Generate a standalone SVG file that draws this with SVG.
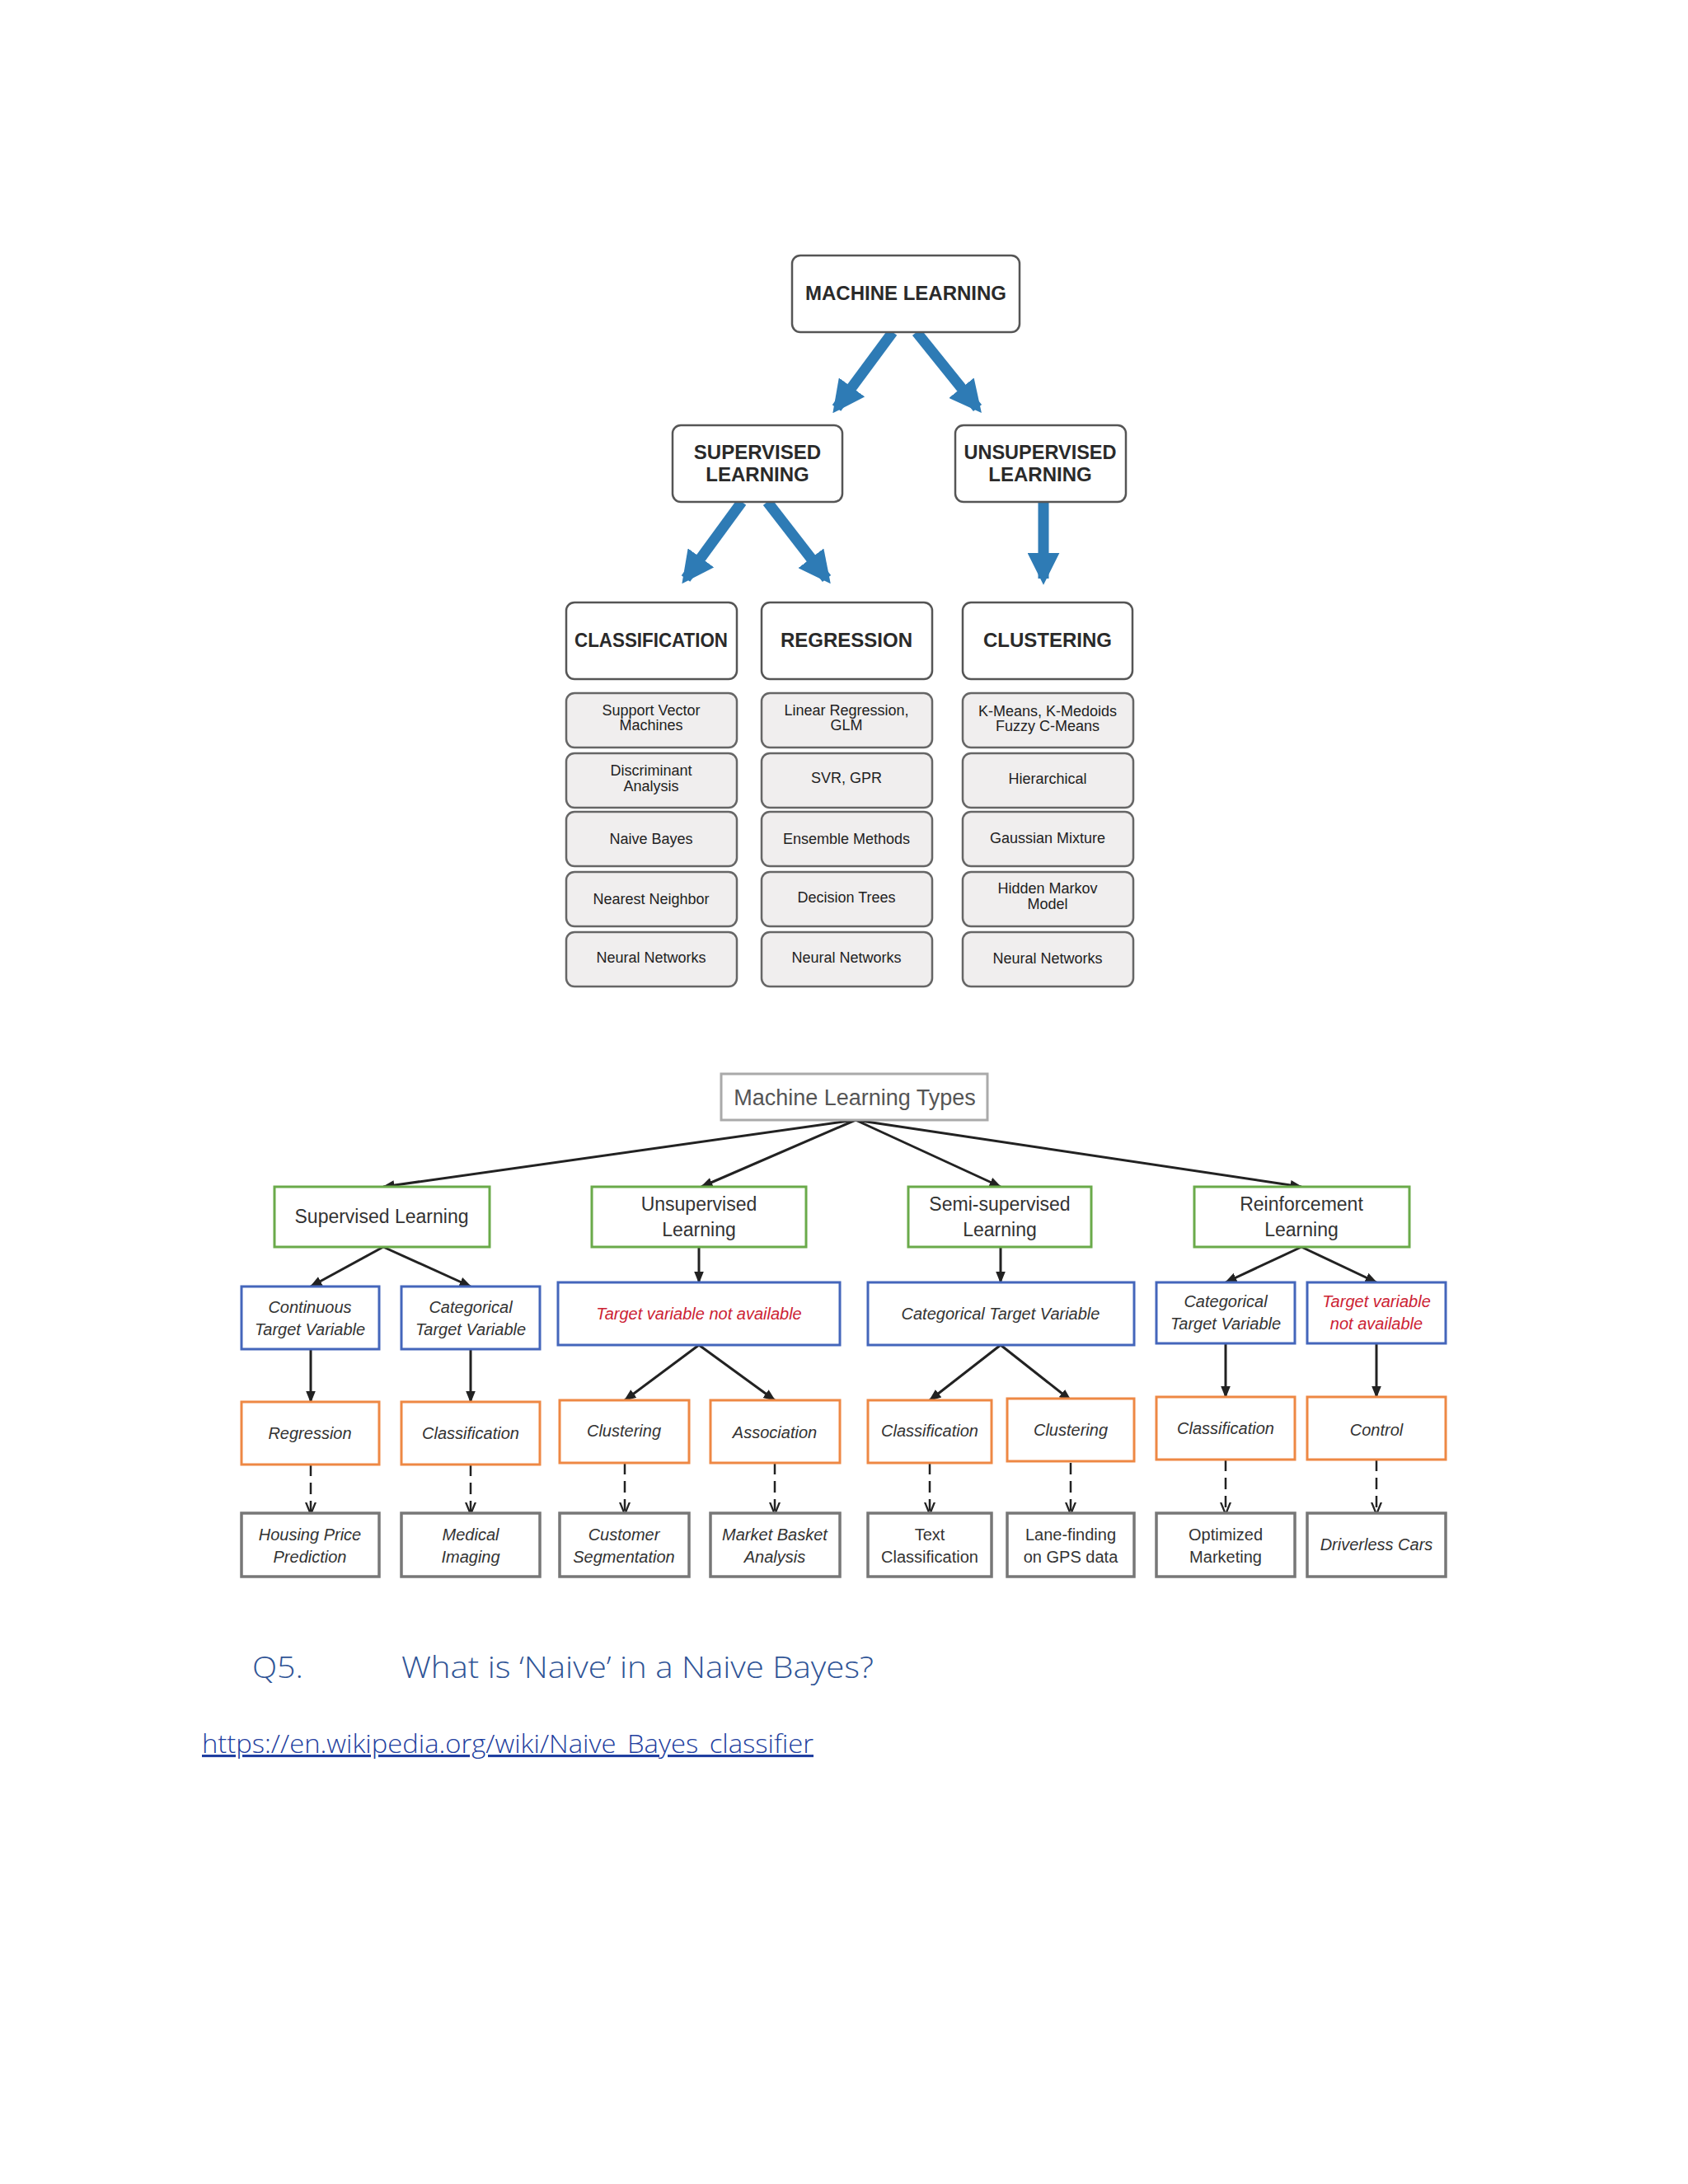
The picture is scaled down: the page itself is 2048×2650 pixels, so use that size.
<svg xmlns="http://www.w3.org/2000/svg" width="2048" height="2650" viewBox="0 0 2048 2650">
<defs>
<marker id="bh" viewBox="0 0 10 10" refX="8" refY="5" markerWidth="3" markerHeight="3" orient="auto"><path d="M0,0 L10,5 L0,10 z" fill="#2e7bb5"/></marker>
<marker id="ah" viewBox="0 0 10 10" refX="9" refY="5" markerWidth="5" markerHeight="5" orient="auto"><path d="M0,1 L10,5 L0,9 z" fill="#222"/></marker>
<marker id="vh" viewBox="0 0 10 10" refX="9" refY="5" markerWidth="6" markerHeight="6" orient="auto"><path d="M0,1 L10,5 L0,9" fill="none" stroke="#222" stroke-width="1.5"/></marker>
</defs>
<style>
.t{font-family:"Liberation Sans",Arial,sans-serif;text-anchor:middle}
.big{fill:#fff;stroke:#555;stroke-width:2.5}
.sm{fill:#f0eeee;stroke:#666;stroke-width:2.5}
.h{font-size:24px;font-weight:bold;fill:#2a2a2a}
.s{font-size:18px;fill:#222}
.g{fill:#fff;stroke:#6aaa4a;stroke-width:3}
.b{fill:#fff;stroke:#4466bb;stroke-width:3}
.o{fill:#fff;stroke:#ee8844;stroke-width:3}
.k{fill:#fff;stroke:#777;stroke-width:3.5}
.l1{font-size:23px;fill:#333}
.it{font-size:20px;font-style:italic;fill:#333}
.red{fill:#cc2233}
.bl{stroke:#2e7bb5;stroke-width:13;fill:none}
.ln{stroke:#222;stroke-width:3;fill:none}
.ds{stroke:#222;stroke-width:2.5;fill:none;stroke-dasharray:14,8}
.q{font-family:"Open Sans","Liberation Sans",sans-serif;font-weight:300}
</style>
<rect width="2048" height="2650" fill="#fff"/>
<g id="connectors">
<line class="bl" x1="1083" y1="403" x2="1015" y2="495" marker-end="url(#bh)"/>
<line class="bl" x1="1112" y1="403" x2="1186" y2="495" marker-end="url(#bh)"/>
<line class="bl" x1="900" y1="609" x2="832" y2="702" marker-end="url(#bh)"/>
<line class="bl" x1="931" y1="609" x2="1003" y2="702" marker-end="url(#bh)"/>
<line class="bl" x1="1266" y1="609" x2="1266" y2="702" marker-end="url(#bh)"/>
<g>
<line class="ln" x1="1038" y1="1359" x2="465" y2="1440" marker-end="url(#ah)"/>
<line class="ln" x1="1038" y1="1359" x2="851" y2="1440" marker-end="url(#ah)"/>
<line class="ln" x1="1038" y1="1359" x2="1214" y2="1440" marker-end="url(#ah)"/>
<line class="ln" x1="1038" y1="1359" x2="1579" y2="1440" marker-end="url(#ah)"/>
<line class="ln" x1="465" y1="1513" x2="377" y2="1561" marker-end="url(#ah)"/>
<line class="ln" x1="465" y1="1513" x2="571" y2="1561" marker-end="url(#ah)"/>
<line class="ln" x1="848" y1="1513" x2="848" y2="1556" marker-end="url(#ah)"/>
<line class="ln" x1="1214" y1="1513" x2="1214" y2="1556" marker-end="url(#ah)"/>
<line class="ln" x1="1579" y1="1513" x2="1487" y2="1556" marker-end="url(#ah)"/>
<line class="ln" x1="1579" y1="1513" x2="1670" y2="1556" marker-end="url(#ah)"/>
<line class="ln" x1="377" y1="1637" x2="377" y2="1701" marker-end="url(#ah)"/>
<line class="ln" x1="571" y1="1637" x2="571" y2="1701" marker-end="url(#ah)"/>
<line class="ln" x1="848" y1="1632" x2="758" y2="1699" marker-end="url(#ah)"/>
<line class="ln" x1="848" y1="1632" x2="940" y2="1699" marker-end="url(#ah)"/>
<line class="ln" x1="1214" y1="1632" x2="1128" y2="1699" marker-end="url(#ah)"/>
<line class="ln" x1="1214" y1="1632" x2="1299" y2="1699" marker-end="url(#ah)"/>
<line class="ln" x1="1487" y1="1630" x2="1487" y2="1695" marker-end="url(#ah)"/>
<line class="ln" x1="1670" y1="1630" x2="1670" y2="1695" marker-end="url(#ah)"/>
<line class="ds" x1="377" y1="1777" x2="377" y2="1836" marker-end="url(#vh)"/>
<line class="ds" x1="571" y1="1777" x2="571" y2="1836" marker-end="url(#vh)"/>
<line class="ds" x1="758" y1="1775" x2="758" y2="1836" marker-end="url(#vh)"/>
<line class="ds" x1="940" y1="1775" x2="940" y2="1836" marker-end="url(#vh)"/>
<line class="ds" x1="1128" y1="1775" x2="1128" y2="1836" marker-end="url(#vh)"/>
<line class="ds" x1="1299" y1="1775" x2="1299" y2="1836" marker-end="url(#vh)"/>
<line class="ds" x1="1487" y1="1771" x2="1487" y2="1836" marker-end="url(#vh)"/>
<line class="ds" x1="1670" y1="1771" x2="1670" y2="1836" marker-end="url(#vh)"/>
</g>
</g>
<g id="ml"><rect class="big" x="961" y="310" width="276" height="93" rx="10"/><text class="t h" x="1099" y="364">MACHINE LEARNING</text></g>
<g id="sup"><rect class="big" x="816" y="516" width="206" height="93" rx="10"/><text class="t h" x="919" y="557">SUPERVISED</text><text class="t h" x="919" y="584">LEARNING</text></g>
<g id="unsup"><rect class="big" x="1159" y="516" width="207" height="93" rx="10"/><text class="t h" x="1262" y="557" textLength="185" lengthAdjust="spacingAndGlyphs">UNSUPERVISED</text><text class="t h" x="1262" y="584">LEARNING</text></g>
<g id="cls"><rect class="big" x="687" y="731" width="207" height="93" rx="10"/><text class="t h" x="790" y="785" textLength="186" lengthAdjust="spacingAndGlyphs">CLASSIFICATION</text></g>
<g id="reg"><rect class="big" x="924" y="731" width="207" height="93" rx="10"/><text class="t h" x="1027" y="785">REGRESSION</text></g>
<g id="clu"><rect class="big" x="1168" y="731" width="206" height="93" rx="10"/><text class="t h" x="1271" y="785">CLUSTERING</text></g>
<g id="methods">
<rect class="sm" x="687" y="841" width="207" height="66" rx="10"/><text class="t s" x="790" y="868">Support Vector</text><text class="t s" x="790" y="886">Machines</text>
<rect class="sm" x="687" y="914" width="207" height="66" rx="10"/><text class="t s" x="790" y="941">Discriminant</text><text class="t s" x="790" y="960">Analysis</text>
<rect class="sm" x="687" y="985" width="207" height="66" rx="10"/><text class="t s" x="790" y="1024">Naive Bayes</text>
<rect class="sm" x="687" y="1058" width="207" height="66" rx="10"/><text class="t s" x="790" y="1097">Nearest Neighbor</text>
<rect class="sm" x="687" y="1131" width="207" height="66" rx="10"/><text class="t s" x="790" y="1168">Neural Networks</text>
<rect class="sm" x="924" y="841" width="207" height="66" rx="10"/><text class="t s" x="1027" y="868">Linear Regression,</text><text class="t s" x="1027" y="886">GLM</text>
<rect class="sm" x="924" y="914" width="207" height="66" rx="10"/><text class="t s" x="1027" y="950">SVR, GPR</text>
<rect class="sm" x="924" y="985" width="207" height="66" rx="10"/><text class="t s" x="1027" y="1024">Ensemble Methods</text>
<rect class="sm" x="924" y="1058" width="207" height="66" rx="10"/><text class="t s" x="1027" y="1095">Decision Trees</text>
<rect class="sm" x="924" y="1131" width="207" height="66" rx="10"/><text class="t s" x="1027" y="1168">Neural Networks</text>
<rect class="sm" x="1168" y="841" width="207" height="66" rx="10"/><text class="t s" x="1271" y="869">K-Means, K-Medoids</text><text class="t s" x="1271" y="887">Fuzzy C-Means</text>
<rect class="sm" x="1168" y="914" width="207" height="66" rx="10"/><text class="t s" x="1271" y="951">Hierarchical</text>
<rect class="sm" x="1168" y="985" width="207" height="66" rx="10"/><text class="t s" x="1271" y="1023">Gaussian Mixture</text>
<rect class="sm" x="1168" y="1058" width="207" height="66" rx="10"/><text class="t s" x="1271" y="1084">Hidden Markov</text><text class="t s" x="1271" y="1103">Model</text>
<rect class="sm" x="1168" y="1131" width="207" height="66" rx="10"/><text class="t s" x="1271" y="1169">Neural Networks</text>
</g>
<g id="mlt"><rect x="875" y="1303" width="323" height="56" fill="#fff" stroke="#aaa" stroke-width="3"/><text class="t" x="1037" y="1341" font-size="27" fill="#555">Machine Learning Types</text></g>
<g id="level1">
<rect class="g" x="333" y="1440" width="261" height="73"/><text class="t l1" x="463" y="1484">Supervised Learning</text>
<rect class="g" x="718" y="1440" width="260" height="73"/><text class="t l1" x="848" y="1469">Unsupervised</text><text class="t l1" x="848" y="1500">Learning</text>
<rect class="g" x="1102" y="1440" width="222" height="73"/><text class="t l1" x="1213" y="1469">Semi-supervised</text><text class="t l1" x="1213" y="1500">Learning</text>
<rect class="g" x="1449" y="1440" width="261" height="73"/><text class="t l1" x="1579" y="1469">Reinforcement</text><text class="t l1" x="1579" y="1500">Learning</text>
</g>
<g id="level2">
<rect class="b" x="293" y="1561" width="167" height="76"/><text class="t it" x="376" y="1593">Continuous</text><text class="t it" x="376" y="1620">Target Variable</text>
<rect class="b" x="487" y="1561" width="168" height="76"/><text class="t it" x="571" y="1593">Categorical</text><text class="t it" x="571" y="1620">Target Variable</text>
<rect class="b" x="677" y="1556" width="342" height="76"/><text class="t it red" x="848" y="1601">Target variable not available</text>
<rect class="b" x="1053" y="1556" width="323" height="76"/><text class="t it" x="1214" y="1601">Categorical Target Variable</text>
<rect class="b" x="1403" y="1556" width="168" height="74"/><text class="t it" x="1487" y="1586">Categorical</text><text class="t it" x="1487" y="1613">Target Variable</text>
<rect class="b" x="1586" y="1556" width="168" height="74"/><text class="t it red" x="1670" y="1586">Target variable</text><text class="t it red" x="1670" y="1613">not available</text>
</g>
<g id="level3">
<rect class="o" x="293" y="1701" width="167" height="76"/><text class="t it" x="376" y="1746">Regression</text>
<rect class="o" x="487" y="1701" width="168" height="76"/><text class="t it" x="571" y="1746">Classification</text>
<rect class="o" x="679" y="1699" width="157" height="76"/><text class="t it" x="757" y="1743">Clustering</text>
<rect class="o" x="862" y="1699" width="157" height="76"/><text class="t it" x="940" y="1745">Association</text>
<rect class="o" x="1053" y="1699" width="150" height="76"/><text class="t it" x="1128" y="1743">Classification</text>
<rect class="o" x="1222" y="1697" width="154" height="76"/><text class="t it" x="1299" y="1742">Clustering</text>
<rect class="o" x="1403" y="1695" width="168" height="76"/><text class="t it" x="1487" y="1740">Classification</text>
<rect class="o" x="1586" y="1695" width="168" height="76"/><text class="t it" x="1670" y="1742">Control</text>
</g>
<g id="level4">
<rect class="k" x="293" y="1836" width="167" height="77"/><text class="t it" x="376" y="1869">Housing Price</text><text class="t it" x="376" y="1896">Prediction</text>
<rect class="k" x="487" y="1836" width="168" height="77"/><text class="t it" x="571" y="1869">Medical</text><text class="t it" x="571" y="1896">Imaging</text>
<rect class="k" x="679" y="1836" width="157" height="77"/><text class="t it" x="757" y="1869">Customer</text><text class="t it" x="757" y="1896">Segmentation</text>
<rect class="k" x="862" y="1836" width="157" height="77"/><text class="t it" x="940" y="1869">Market Basket</text><text class="t it" x="940" y="1896">Analysis</text>
<rect class="k" x="1053" y="1836" width="150" height="77"/><text class="t" font-size="20" fill="#333" x="1128" y="1869">Text</text><text class="t" font-size="20" fill="#333" x="1128" y="1896">Classification</text>
<rect class="k" x="1222" y="1836" width="154" height="77"/><text class="t" font-size="20" fill="#333" x="1299" y="1869">Lane-finding</text><text class="t" font-size="20" fill="#333" x="1299" y="1896">on GPS data</text>
<rect class="k" x="1403" y="1836" width="168" height="77"/><text class="t" font-size="20" fill="#333" x="1487" y="1869">Optimized</text><text class="t" font-size="20" fill="#333" x="1487" y="1896">Marketing</text>
<rect class="k" x="1586" y="1836" width="168" height="77"/><text class="t it" x="1670" y="1881">Driverless Cars</text>
</g>
<g id="text">
<text class="q" x="306" y="2036" font-size="36" fill="#2f5496" textLength="62" lengthAdjust="spacingAndGlyphs">Q5.</text>
<text class="q" x="487" y="2036" font-size="36" fill="#2f5496" textLength="573" lengthAdjust="spacingAndGlyphs">What is ‘Naive’ in a Naive Bayes?</text>
<text class="q" x="245" y="2127" font-size="31" fill="#1f3fa0" text-decoration="underline" textLength="742" lengthAdjust="spacingAndGlyphs">https://en.wikipedia.org/wiki/Naive_Bayes_classifier</text>
</g>
</svg>
